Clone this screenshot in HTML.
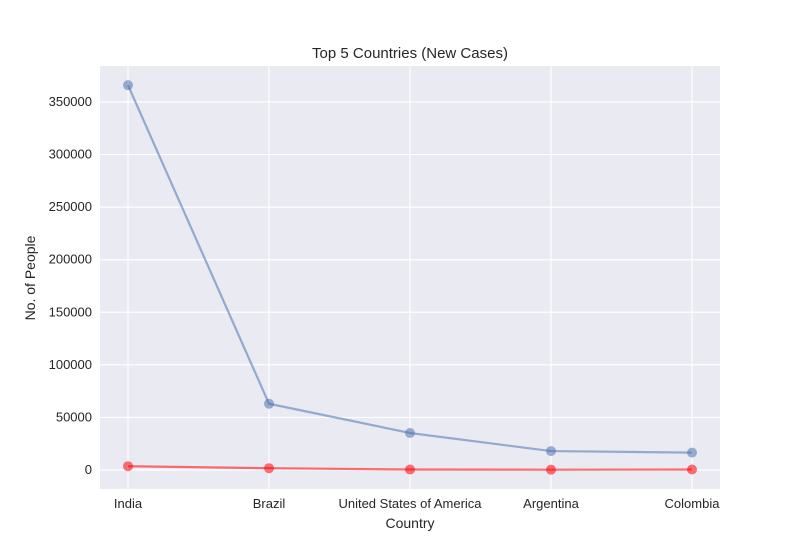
<!DOCTYPE html>
<html><head><meta charset="utf-8"><style>
body{margin:0;background:#fff;font-family:"Liberation Sans",sans-serif}
text{font-family:"Liberation Sans",sans-serif;fill:#262626}
</style></head><body>
<svg id="chart" width="800" height="550" xmlns="http://www.w3.org/2000/svg">
<rect x="100" y="66" width="620" height="423" fill="#eaeaf2"/>
<g id="grid"></g>
<g id="series"></g>
<text x="410" y="58" font-size="15" text-anchor="middle">Top 5 Countries (New Cases)</text>
<text x="410" y="528" font-size="14" text-anchor="middle">Country</text>
<text x="35" y="278" font-size="14" text-anchor="middle" transform="rotate(-90 35 278)">No. of People</text>
</svg>
<script>
const categories=["India","Brazil","United States of America","Argentina","Colombia"];
const newCases=[366000,63000,35200,18000,16500];
const newDeaths=[3600,1700,500,300,500];
const yTicks=[0,50000,100000,150000,200000,250000,300000,350000];
const NS="http://www.w3.org/2000/svg";
function xs(i){return 128+i*141;}
function ys(v){return 470-v*(368/350000);}
function mk(t,a,p){const e=document.createElementNS(NS,t);for(const k in a)e.setAttribute(k,a[k]);p.appendChild(e);return e;}
const g=document.getElementById('grid'),s=document.getElementById('series');
yTicks.forEach(v=>{
 const l=mk('line',{x1:100,x2:720,y1:ys(v),y2:ys(v),stroke:'#fff','stroke-width':1.2},g);
 
 
 const t=mk('text',{x:92,y:ys(v)+4,'font-size':13,'text-anchor':'end'},g);t.textContent=v;
 
 
});
categories.forEach((c,i)=>{
 const l=mk('line',{x1:xs(i),x2:xs(i),y1:66,y2:489,stroke:'#fff','stroke-width':1.2},g);
 
 
 const t=mk('text',{x:xs(i),y:508,'font-size':13,'text-anchor':'middle'},g);t.textContent=c;
 
 
});
function series(vals,color,name){
 const p=mk('polyline',{points:vals.map((v,i)=>xs(i)+','+ys(v)).join(' '),fill:'none',stroke:color,'stroke-width':2.2,'stroke-opacity':0.55},s);
 
 
 vals.forEach((v,i)=>{
  const c=mk('circle',{cx:xs(i),cy:ys(v),r:5,fill:color,'fill-opacity':0.55},s);
  
  
 });
}
series(newCases,'#4c72b0','new-cases');
series(newDeaths,'#ff0000','new-deaths');
</script>
</body></html>
